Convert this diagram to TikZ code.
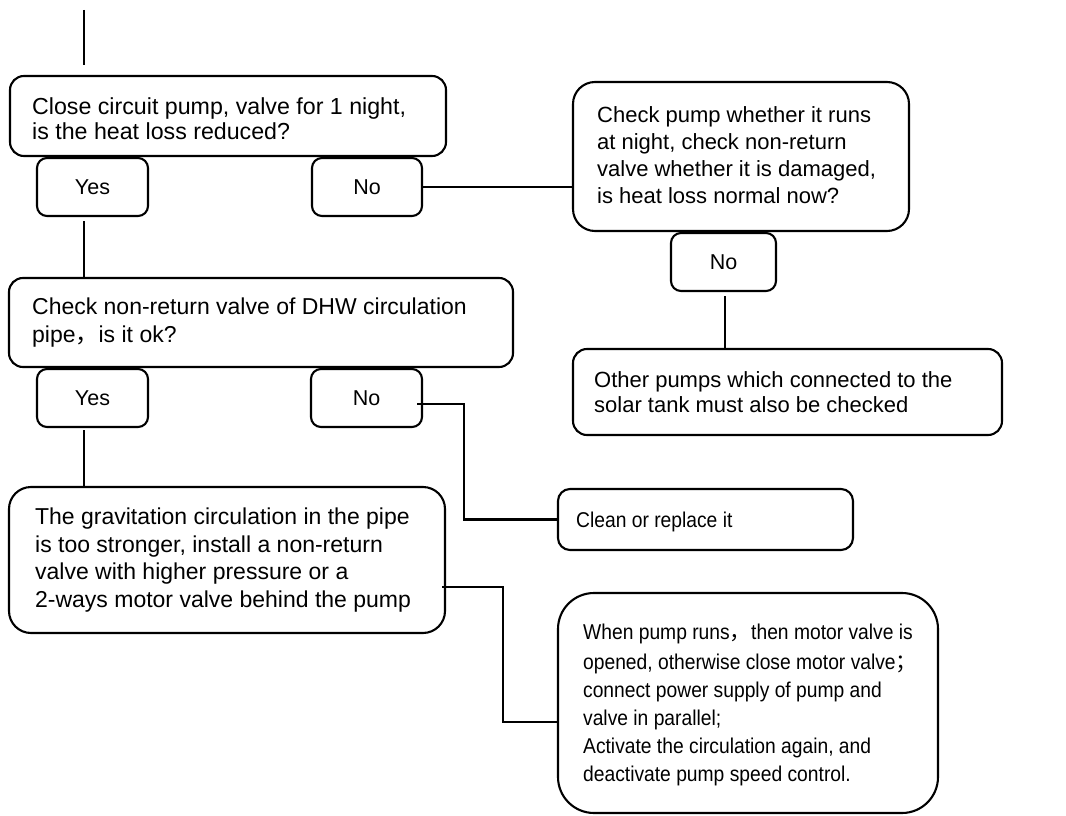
\documentclass[tikz,border=0pt]{standalone}
\usepackage{fontspec}
\setmainfont{Liberation Sans}
\newfontfamily\cjk{Noto Sans CJK SC}
\newfontfamily\narrowsans[FakeStretch=0.9]{Liberation Sans}
\begin{document}
\begin{tikzpicture}[x=1pt,y=-1pt,
  bx/.style={draw, line width=2.1pt, inner sep=0pt},
  txt/.style={inner sep=0pt, align=left, anchor=west},
  big/.style={font=\fontsize{23}{26}\selectfont},
  mid/.style={font=\fontsize{22}{27}\selectfont},
  yn/.style={font=\fontsize{21.5}{24}\selectfont},
  conn/.style={line width=2.1pt}]
\useasboundingbox (0,0) rectangle (1066,816);
% boxes
\node[bx, rounded corners=14pt, minimum width=436pt, minimum height=80pt] (b1) at (228,116) {};
\node[txt, font=\fontsize{23.2}{25}\selectfont] (t1) at ([xshift=23pt,yshift=-3pt]b1.west) {Close circuit pump, valve for 1 night,\\is the heat loss reduced?};
\node[bx, rounded corners=10pt, minimum width=111pt, minimum height=58pt, yn] (y1) at (92.5,187) {Yes};
\node[bx, rounded corners=10pt, minimum width=110pt, minimum height=58pt, yn] (n1) at (367,187) {No};
\node[bx, rounded corners=22pt, minimum width=336pt, minimum height=149pt] (b2) at (741,156.5) {};
\node[txt, mid] (t2) at ([xshift=25pt,yshift=1pt]b2.west) {Check pump whether it runs\\at night, check non-return\\valve whether it is damaged,\\is heat loss normal now?};
\node[bx, rounded corners=10pt, minimum width=105pt, minimum height=58pt, yn] (n2) at (723.5,262) {No};
\node[bx, rounded corners=14pt, minimum width=429pt, minimum height=86pt] (b3) at (787.5,392) {};
\node[txt, font=\fontsize{22}{25}\selectfont] (t3) at ([xshift=22pt]b3.west) {Other pumps which connected to the\\solar tank must also be checked};
\node[bx, rounded corners=14pt, minimum width=504pt, minimum height=89pt] (b4) at (261,322.5) {};
\node[txt, font=\fontsize{23}{28}\selectfont] (t4) at ([xshift=24pt]b4.west) {Check non-return valve of DHW circulation\\pipe{\cjk ，}is it ok?};
\node[bx, rounded corners=10pt, minimum width=111pt, minimum height=58pt, yn] (y2) at (92.5,398) {Yes};
\node[bx, rounded corners=10pt, minimum width=111pt, minimum height=58pt, yn] (n3) at (366.5,398) {No};
\node[bx, rounded corners=22pt, minimum width=436pt, minimum height=146pt] (b5) at (227,560) {};
\node[txt, font=\fontsize{23}{27.5}\selectfont] (t5) at ([xshift=27pt]b5.west) {The gravitation circulation in the pipe\\is too stronger, install a non-return\\valve with higher pressure or a\\2-ways motor valve behind the pump};
\node[bx, rounded corners=12pt, minimum width=295pt, minimum height=61pt] (cl) at (705.5,519.5) {};
\node[txt, font=\narrowsans\fontsize{21.4}{24}\selectfont] (t6) at ([xshift=19pt,yshift=-2pt]cl.west) {Clean or replace it};
\node[bx, rounded corners=36pt, minimum width=380pt, minimum height=220pt] (b6) at (748,703) {};
\node[txt, font=\narrowsans\fontsize{21.4}{28}\selectfont] (t7) at ([xshift=26pt,yshift=-2pt]b6.west) {When pump runs{\cjk ，}then motor valve is\\[2pt]opened, otherwise close motor valve{\cjk ；}\\connect power supply of pump and\\valve in parallel;\\Activate the circulation again, and\\deactivate pump speed control.};
% free ends
\coordinate (s0) at (84,10);
\coordinate (s1) at (84,65);
\coordinate (ya) at (84,221);
\coordinate (nb) at (725,296);
\coordinate (nc) at (417,404);
\coordinate (nd) at (464,404);
\coordinate (yc) at (84,430);
\coordinate (e5) at (442,587);
\coordinate (e6) at (503,587);
% connectors
\draw[conn] (s0) -- (s1);
\draw[conn] (ya) -- (ya |- b4.north);
\draw[conn] (n1.east) -- (n1.east -| b2.west);
\draw[conn] (nb) -- (nb |- b3.north);
\draw[conn] (nc) -- (nd) -- (nd |- cl.west) -- (cl.west);
\draw[conn] (yc) -- (yc |- b5.north);
\draw[conn] (e5) -- (e6) -- (e6 |- 0,722) -- (b6.west |- 0,722);
\end{tikzpicture}
\end{document}
